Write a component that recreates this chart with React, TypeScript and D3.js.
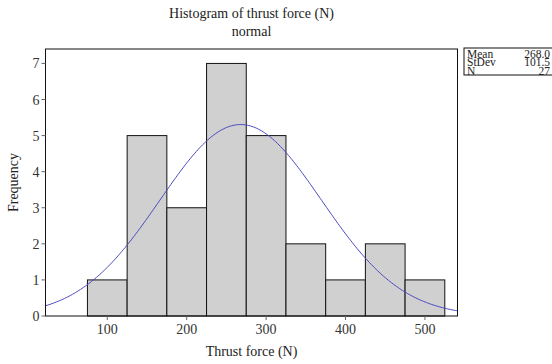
import React from "react";
import * as d3 from "d3";

const binCenters = [100, 150, 200, 250, 300, 350, 400, 450, 500];
const counts = [1, 5, 3, 7, 5, 2, 1, 2, 1];
const binWidth = 50;
const xTicks = [100, 200, 300, 400, 500];
const yTicks = [0, 1, 2, 3, 4, 5, 6, 7];
const statLabels = ["Mean", "StDev", "N"];
const statValues = ["268.0", "101.5", "27"];
const mean = 268.0;
const stdev = 101.5;
const nObs = 27;

const W = 552;
const H = 364;
const M = { left: 45.5, right: 457.5, top: 49, bottom: 316 };
const FONT = "'Liberation Serif', 'DejaVu Serif', serif";

export default function App() {
  const x = d3.scaleLinear().domain([22.2, 541]).range([M.left, M.right]);
  const y = d3.scaleLinear().domain([0, 7.4]).range([M.bottom, M.top]);

  const xs = d3.range(22.2, 541.01, 2);
  const dens = (v: number) =>
    (nObs * binWidth) / (stdev * Math.sqrt(2 * Math.PI)) *
    Math.exp(-0.5 * ((v - mean) / stdev) ** 2);
  const line = d3
    .line<number>()
    .x((d) => x(d))
    .y((d) => y(dens(d)))
    .curve(d3.curveMonotoneX);

  const cx = (M.left + M.right) / 2;

  return (
    <svg
      width={W}
      height={H}
      style={{ position: "absolute", left: 0, top: 0, background: "#fff" }}
      fontFamily={FONT}
    >
      <defs>
        <clipPath id="legclip">
          <rect x={464} y={48} width={88} height={27} />
        </clipPath>
        <clipPath id="plotclip">
          <rect x={M.left} y={M.top} width={M.right - M.left} height={M.bottom - M.top} />
        </clipPath>
      </defs>
      <text x={cx} y={18} textAnchor="middle" fontSize={14} fill="#222">
        Histogram of thrust force (N)
      </text>
      <text x={cx} y={35.5} textAnchor="middle" fontSize={14} fill="#222">
        normal
      </text>

      {binCenters.map((c, i) => (
        <rect
          key={i}
          x={x(c - binWidth / 2)}
          y={y(counts[i])}
          width={x(c + binWidth / 2) - x(c - binWidth / 2)}
          height={y(0) - y(counts[i])}
          fill="#d0d0d0"
          stroke="#111"
          strokeWidth={1}
        />
      ))}

      <path
        d={line(xs) || ""}
        fill="none"
        stroke="#4a4ac0"
        strokeWidth={1}
        clipPath="url(#plotclip)"
      />

      <rect
        x={M.left}
        y={M.top}
        width={M.right - M.left}
        height={M.bottom - M.top}
        fill="none"
        stroke="#111"
        strokeWidth={1}
      />

      {xTicks.map((t) => (
        <g key={t}>
          <line x1={x(t)} x2={x(t)} y1={M.bottom} y2={M.bottom + 4} stroke="#666" />
          <text x={x(t)} y={M.bottom + 18} textAnchor="middle" fontSize={14} fill="#333">
            {t}
          </text>
        </g>
      ))}
      {yTicks.map((t) => (
        <g key={t}>
          <line x1={M.left - 4} x2={M.left} y1={y(t)} y2={y(t)} stroke="#666" />
          <text x={M.left - 6} y={y(t) + 5} textAnchor="end" fontSize={14} fill="#333">
            {t}
          </text>
        </g>
      ))}

      <text x={cx} y={356} textAnchor="middle" fontSize={14} fill="#222">
        Thrust force (N)
      </text>
      <text
        transform={`translate(18,${(M.top + M.bottom) / 2}) rotate(-90)`}
        textAnchor="middle"
        fontSize={14}
        fill="#222"
      >
        Frequency
      </text>

      <rect x={464} y={48} width={100} height={27} fill="#fff" stroke="#111" strokeWidth={1} />
      <g clipPath="url(#legclip)">
        {statLabels.map((s, i) => (
          <g key={s}>
            <text x={467} y={57.5 + i * 8.8} fontSize={11.5} fill="#222">
              {s}
            </text>
            <text x={550} y={57.5 + i * 8.8} textAnchor="end" fontSize={11.5} fill="#222">
              {statValues[i]}
            </text>
          </g>
        ))}
      </g>
    </svg>
  );
}
